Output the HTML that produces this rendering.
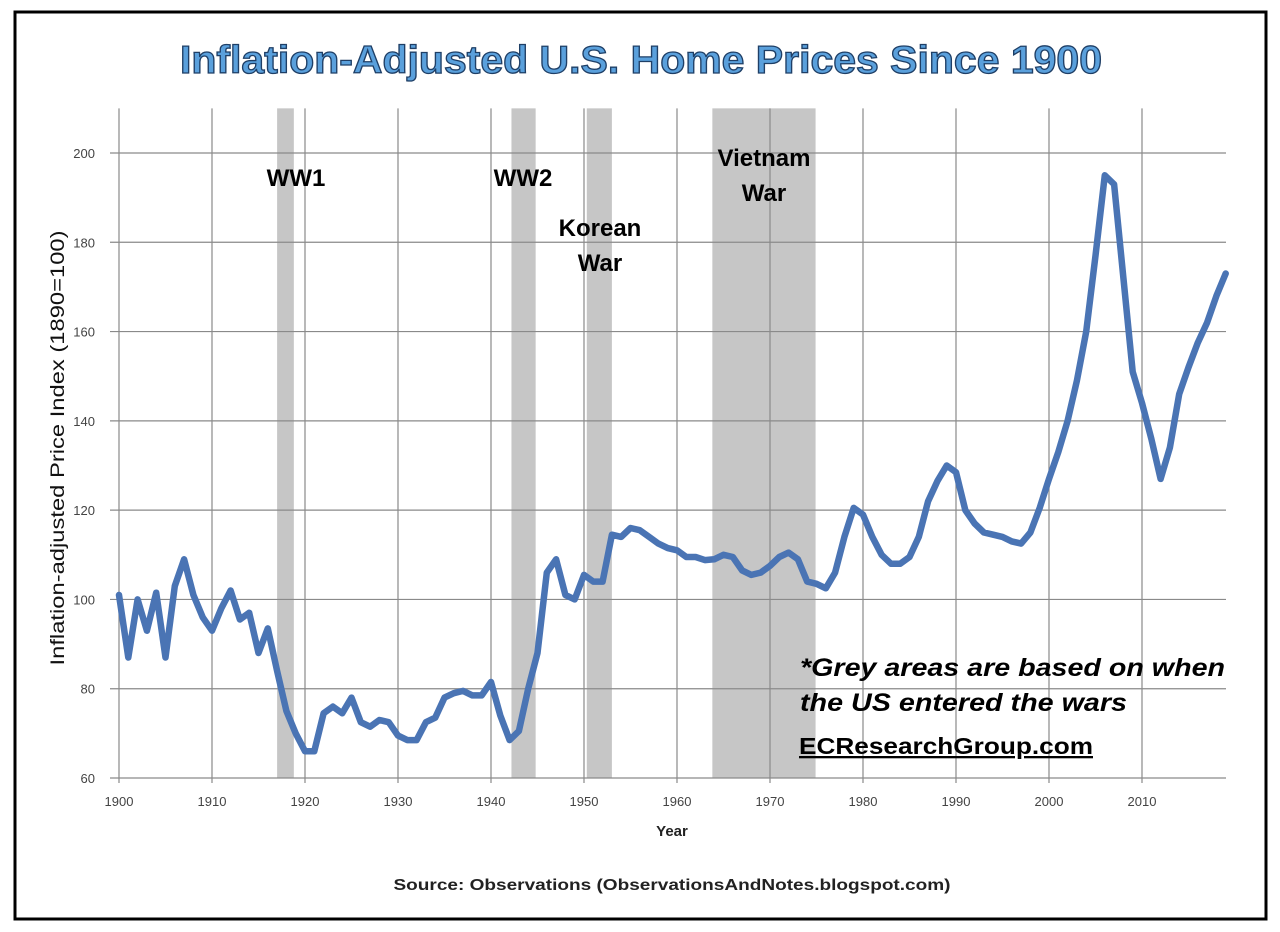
<!DOCTYPE html>
<html><head><meta charset="utf-8"><style>
html,body{margin:0;padding:0;background:#fff;}
svg{display:block;font-family:"Liberation Sans",sans-serif;}
</style></head><body>
<svg width="1280" height="932" viewBox="0 0 1280 932">
<rect x="15" y="12" width="1251" height="907" fill="#fff" stroke="#000" stroke-width="3"/>
<text x="641" y="73" text-anchor="middle" font-size="39" font-weight="bold" fill="#5aa0dc" stroke="#1f3f66" stroke-width="1.3" textLength="922" lengthAdjust="spacingAndGlyphs">Inflation-Adjusted U.S. Home Prices Since 1900</text>
<g id="bands"></g>
<g id="grid"></g>
<g id="ticks"></g>
<path id="line" fill="none" stroke="#4a74b4" stroke-width="6.5" stroke-linejoin="round" stroke-linecap="round"/>
<text x="296" y="186" text-anchor="middle" font-size="24" font-weight="bold">WW1</text>
<text x="523" y="186" text-anchor="middle" font-size="24" font-weight="bold">WW2</text>
<text x="600" y="236" text-anchor="middle" font-size="24" font-weight="bold">Korean</text>
<text x="600" y="271" text-anchor="middle" font-size="24" font-weight="bold">War</text>
<text x="764" y="166" text-anchor="middle" font-size="24" font-weight="bold">Vietnam</text>
<text x="764" y="201" text-anchor="middle" font-size="24" font-weight="bold">War</text>
<text x="800" y="676" font-size="25" font-weight="bold" font-style="italic" textLength="425" lengthAdjust="spacingAndGlyphs">*Grey areas are based on when</text>
<text x="800" y="711" font-size="25" font-weight="bold" font-style="italic" textLength="327" lengthAdjust="spacingAndGlyphs">the US entered the wars</text>
<text x="799" y="754" font-size="23" font-weight="bold" text-decoration="underline" textLength="294" lengthAdjust="spacingAndGlyphs">ECResearchGroup.com</text>
<text x="672" y="836" text-anchor="middle" font-size="15" font-weight="bold" fill="#222">Year</text>
<text transform="translate(64,448) rotate(-90)" text-anchor="middle" font-size="19" fill="#111" textLength="435" lengthAdjust="spacingAndGlyphs">Inflation-adjusted  Price Index (1890=100)</text>
<text x="672" y="890" text-anchor="middle" font-size="16" font-weight="bold" fill="#222" textLength="557" lengthAdjust="spacingAndGlyphs">Source: Observations  (ObservationsAndNotes.blogspot.com)</text>
</svg>
<script>
const years=[];for(let y=1900;y<=2019;y++)years.push(y);
const values=[101,87,100,93,101.5,87,103,109,101,96,93,98,102,95.5,97,88,93.5,84,75,70,66,66,74.5,76,74.5,78,72.5,71.5,73,72.5,69.5,68.5,68.5,72.5,73.5,78,79,79.5,78.5,78.5,81.5,74,68.5,70.5,80,88,106,109,101,100,105.5,104,104,114.5,114,116,115.5,114,112.5,111.5,111,109.5,109.5,108.8,109,110,109.5,106.5,105.5,106,107.5,109.5,110.5,109,104,103.5,102.5,106,114,120.5,119,114,110,108,108,109.5,114,122,126.5,130,128.5,120,117,115,114.5,114,113,112.5,115,120.5,127,133,140,149,160,177,195,193,172,151,144,136,127,134,146,152,157.5,162,168,173];
const warStarts=[1917.0,1942.2,1950.3,1963.8];
const warEnds=[1918.8,1944.8,1953.0,1974.9];
const xTicks=[1900,1910,1920,1930,1940,1950,1960,1970,1980,1990,2000,2010];
const yTicks=[60,80,100,120,140,160,180,200];
const NS='http://www.w3.org/2000/svg';
const X=v=>119+(v-1900)*9.3;
const Y=v=>778-(v-60)*(625/140);
const L=110,R=1226,T=Y(210),B=778;
const bands=document.getElementById('bands'),grid=document.getElementById('grid'),ticks=document.getElementById('ticks');
function mk(tag,attrs,parent){const e=document.createElementNS(NS,tag);for(const k in attrs)e.setAttribute(k,attrs[k]);parent.appendChild(e);return e;}
warStarts.forEach((s,i)=>{
 const r=mk('rect',{x:X(s),y:T,width:X(warEnds[i])-X(s),height:B-T,fill:'#c6c6c6'},bands);
 
 
});
yTicks.forEach(v=>{
 const l=mk('line',{x1:L,x2:R,y1:Y(v),y2:Y(v),stroke:'#8a8a8a','stroke-width':1.2},grid);
 
 
 const t=mk('text',{x:95,y:Y(v)+5,'text-anchor':'end','font-size':13,fill:'#444'},ticks);
 t.textContent=v;
 
 
});
xTicks.forEach(v=>{
 const l=mk('line',{x1:X(v),x2:X(v),y1:T,y2:B+5,stroke:'#8a8a8a','stroke-width':1.2},grid);
 
 
 const t=mk('text',{x:X(v),y:806,'text-anchor':'middle','font-size':13,fill:'#444'},ticks);
 t.textContent=v;
 
 
});
document.getElementById('line').setAttribute('d',years.map((y,i)=>(i?'L':'M')+X(y).toFixed(1)+','+Y(values[i]).toFixed(1)).join(''));
</script>
</body></html>
